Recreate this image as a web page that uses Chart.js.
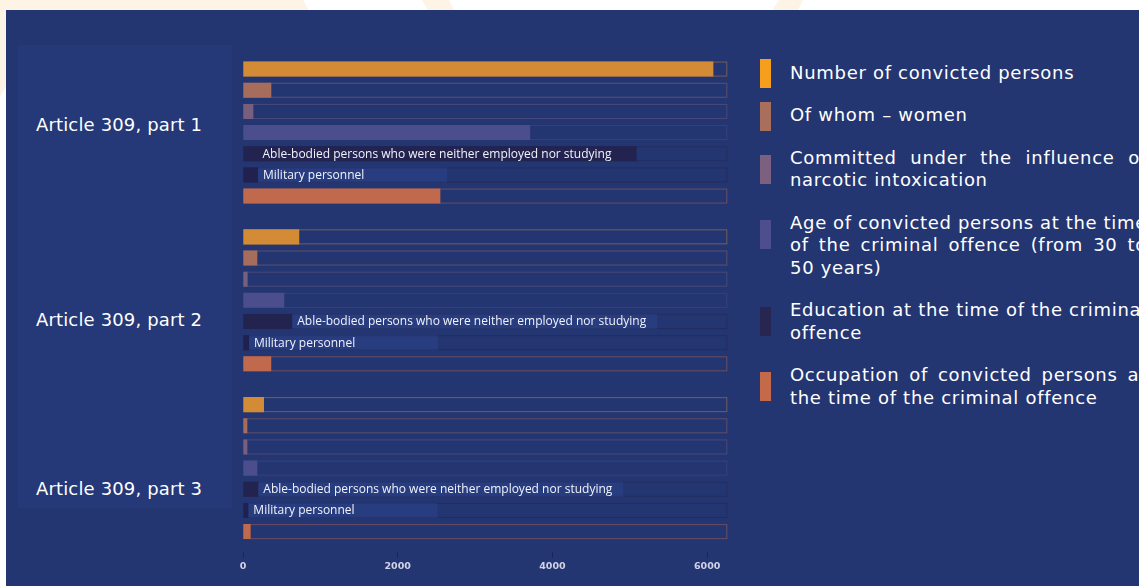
<!DOCTYPE html>
<html>
<head>
<meta charset="utf-8">
<script src="https://cdn.jsdelivr.net/npm/chart.js@4.4.1/dist/chart.umd.min.js"></script>
<style>
html, body { margin: 0; padding: 0; }
body {
    width: 1139px; height: 586px; overflow: hidden; position: relative;
    background: #ffffff; font-family: 'DejaVu Sans', sans-serif;
}
.deco { position: absolute; left: 0; top: 0; width: 1139px; height: 120px; background: #fdf4e6; }
.deco.a { clip-path: polygon(0 0, 303px 0, 310px 12px, 60px 12px, 0 96px); }
.deco.b { clip-path: polygon(422px 0, 449px 0, 455px 12px, 429px 12px); }
.deco.c { clip-path: polygon(779px 0, 803px 0, 797px 12px, 771px 12px); }
.panel { position: absolute; left: 6px; top: 10px; right: 0; bottom: 0; background: #243672; }
.side { position: absolute; left: 18px; top: 45px; width: 214px; height: 463px; background: #253877; }
.cat {
    position: absolute; left: 36px; color: #ffffff; font-size: 18px; line-height: 22px; letter-spacing: 0.15px;
    transform: translateY(-50%); white-space: nowrap;
}
#wrap { position: absolute; left: 232px; top: 40px; width: 508px; height: 546px; }
.legend {
    position: absolute; left: 760px; top: 61.5px; color: #ffffff;
    font-size: 18px; line-height: 22.5px; letter-spacing: 0.7px;
}
.item { position: relative; margin-bottom: 20px; }
.sw { position: absolute; left: 0; top: 8px; width: 11px; height: 29px; }
.item.one .sw { top: -2.5px; }
.txt { margin-left: 30px; width: 357px; }
.line { display: flex; white-space: nowrap; column-gap: 6px; }
.line.j { justify-content: space-between; column-gap: 4px; }
</style>
</head>
<body>
<div class="deco a"></div>
<div class="deco b"></div>
<div class="deco c"></div>
<div class="panel"></div>
<div class="side"></div>
<div id="cats"></div>
<div id="wrap"><canvas id="chart"></canvas></div>
<div class="legend" id="legend"></div>
<script>
const categories = ['Article 309, part 1', 'Article 309, part 2', 'Article 309, part 3'];
const categoryLabelY = [125, 320, 489];

const convicted = [6080, 727, 271];
const women = [366, 185, 56];
const narcotic = [134, 60, 56];
const age30to50 = [3712, 533, 185];
const notWorkingOrStudying = [5088, 636, 198];
const military = [194, 77, 69];
const occupation = [2551, 365, 99];

const xTicks = [0, 2000, 4000, 6000];
const xMax = 6260;

const rowNames = ['Number of convicted persons', 'Of whom \u2013 women', 'Committed under the influence of narcotic intoxication',
    'Age of convicted persons (30\u201350)', 'Able-bodied persons who were neither employed nor studying', 'Military personnel', 'Occupation'];
const rowValues = [convicted, women, narcotic, age30to50, notWorkingOrStudying, military, occupation];
const rowColors = ['#d48b36', '#a66d5c', '#785f7e', '#4c4d8c', '#232350', '#212150', '#c1694c'];
const trackColors = ['rgba(212,139,54,0.45)', 'rgba(166,109,92,0.45)', 'rgba(120,95,126,0.45)', 'rgba(76,77,140,0.45)',
    'rgba(35,35,80,0.5)', 'rgba(33,33,80,0.5)', 'rgba(193,105,76,0.45)'];
const rowNotes = [null, null, null, null, 'Able-bodied persons who were neither employed nor studying', 'Military personnel', null];

const legendLines = [
    ['Number of convicted persons'],
    ['Of whom \u2013 women'],
    ['Committed under the influence of', 'narcotic intoxication'],
    ['Age of convicted persons at the time', 'of the criminal offence (from 30 to', '50 years)'],
    ['Education at the time of the criminal', 'offence'],
    ['Occupation of convicted persons at', 'the time of the criminal offence']
];
const legendColors = ['#f59f1c', '#a8705c', '#7b607f', '#4e4e8e', '#262650', '#c46a4a'];

// category captions on the left panel
const catBox = document.getElementById('cats');
categories.forEach((c, i) => {
    const d = document.createElement('div');
    d.className = 'cat';
    d.style.top = categoryLabelY[i] + 'px';
    d.textContent = c;
    catBox.appendChild(d);
});

// legend on the right; every line but the last is spread to full width
const legendBox = document.getElementById('legend');
legendLines.forEach((lines, i) => {
    const item = document.createElement('div');
    item.className = 'item' + (lines.length === 1 ? ' one' : '');
    const sw = document.createElement('div');
    sw.className = 'sw';
    sw.style.background = legendColors[i];
    const txt = document.createElement('div');
    txt.className = 'txt';
    lines.forEach((l, k) => {
        const row = document.createElement('div');
        row.className = 'line' + (k < lines.length - 1 ? ' j' : '');
        if (k < lines.length - 1) {
            l.split(' ').forEach(w => {
                const s = document.createElement('span');
                s.textContent = w;
                row.appendChild(s);
            });
        } else {
            row.textContent = l;
        }
        txt.appendChild(row);
    });
    item.appendChild(sw);
    item.appendChild(txt);
    legendBox.appendChild(item);
});

// outlined track behind every bar, up to the end of the axis
const trackPlugin = {
    id: 'tracks',
    beforeDatasetsDraw(chart) {
        const ctx = chart.ctx;
        const x = chart.scales.x;
        const x0 = x.getPixelForValue(0);
        const x1 = x.getPixelForValue(x.max);
        chart.data.datasets.forEach((ds, i) => {
            chart.getDatasetMeta(i).data.forEach(bar => {
                const h = bar.height;
                ctx.save();
                ctx.strokeStyle = trackColors[i];
                ctx.lineWidth = 1;
                ctx.strokeRect(x0 + 0.5, bar.y - h / 2 + 0.5, x1 - x0 - 1, h - 1);
                ctx.restore();
            });
        });
    }
};

// text notes written on the occupation rows
const notePlugin = {
    id: 'notes',
    afterDatasetsDraw(chart) {
        const ctx = chart.ctx;
        ctx.save();
        ctx.font = '12px "Open Sans", sans-serif';
        ctx.textBaseline = 'middle';
        rowNotes.forEach((note, i) => {
            if (!note) return;
            chart.getDatasetMeta(i).data.forEach(bar => {
                const tw = ctx.measureText(note).width;
                const w = bar.x - bar.base;
                let tx;
                if (w > tw + 20) {
                    tx = bar.base + 19;
                } else {
                    ctx.fillStyle = 'rgba(60,90,180,0.2)';
                    ctx.fillRect(bar.x, bar.y - bar.height / 2, Math.max(189, tw + 16), bar.height);
                    tx = bar.x + 5;
                }
                ctx.fillStyle = '#f2f3fa';
                ctx.fillText(note, tx, bar.y + 0.5);
            });
        });
        ctx.restore();
    }
};

new Chart(document.getElementById('chart'), {
    type: 'bar',
    data: {
        labels: categories,
        datasets: rowValues.map((vals, i) => ({
            label: rowNames[i],
            data: vals,
            backgroundColor: rowColors[i],
            borderWidth: 0,
            barPercentage: 0.71,
            categoryPercentage: 0.883
        }))
    },
    options: {
        indexAxis: 'y',
        responsive: true,
        maintainAspectRatio: false,
        animation: false,
        layout: { padding: { left: 11, top: 8.7, right: 12.7, bottom: 0 } },
        plugins: { legend: { display: false }, tooltip: { enabled: false } },
        scales: {
            y: { display: false },
            x: {
                min: 0,
                max: xMax,
                afterFit(s) { s.height = 34; },
                afterBuildTicks(s) { s.ticks = xTicks.map(v => ({ value: v })); },
                border: { display: false },
                grid: { drawOnChartArea: false, drawTicks: true, tickLength: 6, color: '#1a2658' },
                ticks: {
                    color: '#d0d2e6',
                    padding: 3,
                    font: { family: 'DejaVu Sans', weight: 'bold', size: 9.5 },
                    callback: v => String(v)
                }
            }
        }
    },
    plugins: [trackPlugin, notePlugin]
});
</script>
</body>
</html>
